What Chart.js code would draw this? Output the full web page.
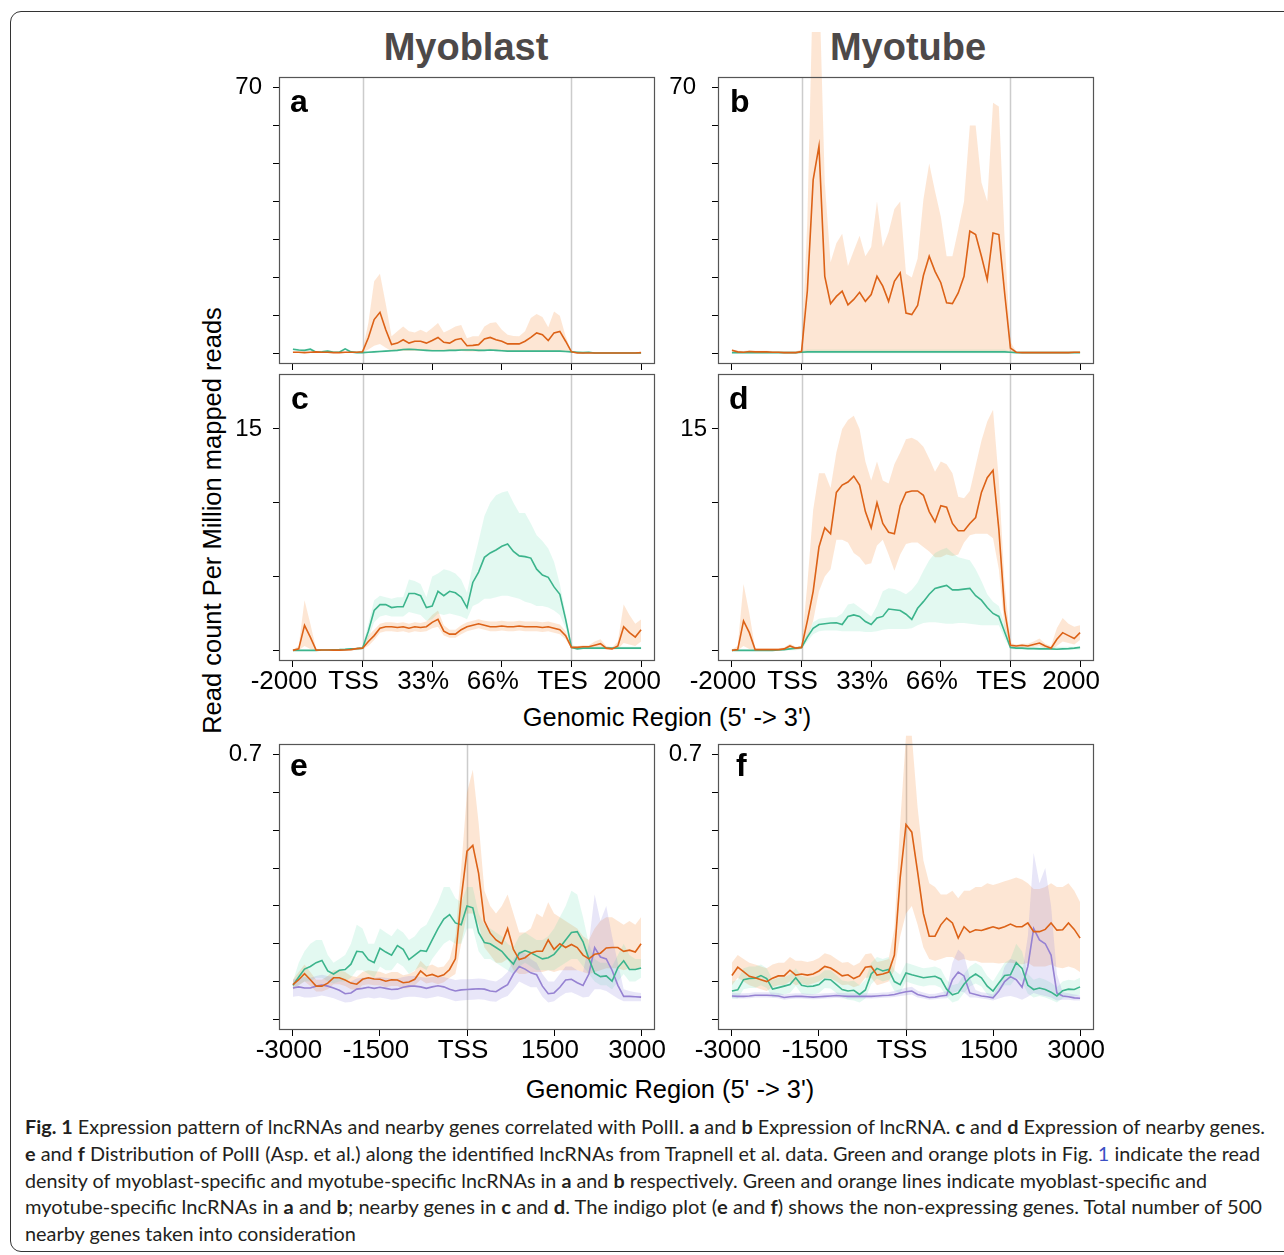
<!DOCTYPE html>
<html>
<head>
<meta charset="utf-8">
<title>Fig. 1</title>
<script src="https://cdn.jsdelivr.net/npm/chart.js@4.4.1/dist/chart.umd.min.js"></script>
<style>
  html, body { margin: 0; padding: 0; background: #fff; }
  body { position: relative; width: 1284px; height: 1255px; overflow: hidden; font-family: 'Liberation Sans', Arial, sans-serif; color: #000; }
  .frame { position: absolute; left: 10px; top: 11px; width: 1320px; height: 1241px; border: 1.5px solid #333; border-radius: 11px; box-sizing: border-box; }
  canvas { position: absolute; }
  .head { position: absolute; top: 28px; width: 400px; text-align: center; font-weight: bold; font-size: 38px; line-height: 38px; color: #4d4949; }
  .xtitle { position: absolute; width: 600px; text-align: center; font-size: 25.4px; line-height: 25px; }
  .ytitle { position: absolute; left: -88px; top: 508px; width: 600px; height: 25px; line-height: 25px; font-size: 25.5px; text-align: center; transform: rotate(-90deg); }
  .cap { position: absolute; left: 25px; white-space: nowrap; font-family: Lato, 'Noto Sans', sans-serif; font-size: 19px; line-height: 19px; color: #231f20; transform-origin: 0 0; }
  .cap .ref { color: #3b4fc4; }
</style>
</head>
<body>
<div class="frame"></div>
<div class="head" style="left:266px">Myoblast</div>
<div class="head" style="left:708px">Myotube</div>
<div class="ytitle">Read count Per Million mapped reads</div>
<div class="xtitle" style="left:367px;top:705px">Genomic Region (5' -&gt; 3')</div>
<div class="xtitle" style="left:370px;top:1077px">Genomic Region (5' -&gt; 3')</div>

<div class="cap" data-w="1240" style="top:1117px"><b>Fig. 1</b> Expression pattern of lncRNAs and nearby genes correlated with PolII. <b>a</b> and <b>b</b> Expression of lncRNA. <b>c</b> and <b>d</b> Expression of nearby genes.</div>
<div class="cap" data-w="1235" style="top:1144px"><b>e</b> and <b>f</b> Distribution of PolII (Asp. et al.) along the identified lncRNAs from Trapnell et al. data. Green and orange plots in Fig. <span class="ref">1</span> indicate the read</div>
<div class="cap" data-w="1182" style="top:1171px">density of myoblast-specific and myotube-specific lncRNAs in <b>a</b> and <b>b</b> respectively. Green and orange lines indicate myoblast-specific and</div>
<div class="cap" data-w="1237" style="top:1197px">myotube-specific lncRNAs in <b>a</b> and <b>b</b>; nearby genes in <b>c</b> and <b>d</b>. The indigo plot (<b>e</b> and <b>f</b>) shows the non-expressing genes. Total number of 500</div>
<div class="cap" style="top:1224px">nearby genes taken into consideration</div>

<script>
// bins: 61 profile points, gene body plots use tick units (0 = -2000 ... 5 = 2000)
const geneBins = Array.from({ length: 61 }, (_, i) => i / 12);
const tssBins = Array.from({ length: 61 }, (_, i) => -3000 + i * 100);

const geneTicks = [0, 1, 2, 3, 4, 5];
const geneTickLabels = ['-2000', 'TSS', '33%', '66%', 'TES', '2000'];
const tssTicks = [-3000, -1500, 0, 1500, 3000];
const tssTickLabels = ['-3000', '-1500', 'TSS', '1500', '3000'];
const geneMarks = [1, 4];
const tssMarks = [0];

const lncYTicks = [0, 10, 20, 30, 40, 50, 60, 70];
const nearYTicks = [0, 5, 10, 15];
const polYTicks = [0, 0.1, 0.2, 0.3, 0.4, 0.5, 0.6, 0.7];

// a: myoblast lncRNA
const aOrange = [0.3,0.3,0.2,0.3,0.4,0.3,0.3,0.2,0.2,0.3,0.3,0.3,
  0.4,4.1,8.9,10.8,6.2,2.3,2.7,3.6,2.7,3.2,3.2,2.7,3.4,4.2,2.9,2.7,3.6,3.9,2.0,2.1,2.3,3.8,4.2,3.6,3.2,2.5,2.5,2.5,3.2,4.2,5.4,4.9,3.4,5.4,5.8,3.2,0.4,
  0.1,0.1,0.1,0.1,0.1,0.1,0.1,0.1,0.1,0.1,0.1,0.2];
const aOrangeHi = [0.4,0.4,0.3,0.4,0.5,0.4,0.4,0.3,0.3,0.4,0.4,0.4,
  0.8,8,19,21,13,4.5,5.8,7.1,5.8,5.5,6.2,5.5,6.7,8.0,5.5,6.2,7.1,7.5,4.0,4.5,4.5,7.1,8.0,8.2,6.2,4.9,4.6,4.5,5.8,9.3,10.4,9.6,6.9,11,9.9,4.5,0.6,
  0.2,0.2,0.2,0.2,0.2,0.2,0.2,0.2,0.2,0.2,0.2,0.3];
const aOrangeLo = [0.1,0.1,0.1,0.1,0.1,0.1,0.1,0.1,0.1,0.1,0.1,0.1,
  0.2,1.0,2.0,2.5,1.5,0.6,0.6,0.6,0.6,0.6,0.6,0.6,0.6,0.6,0.6,0.6,0.6,0.6,0.5,0.5,0.5,0.6,0.6,0.6,0.6,0.5,0.5,0.5,0.6,0.6,0.6,0.6,0.6,0.6,0.6,0.5,0.2,
  0.05,0.05,0.05,0.05,0.05,0.05,0.05,0.05,0.05,0.05,0.05,0.05];
const aGreen = [1.1,0.9,0.8,1.1,0.3,0.4,0.6,0.3,0.3,1.2,0.4,0.2,
  0.2,0.3,0.4,0.5,0.6,0.7,0.8,1.0,1.1,1.0,0.9,0.8,0.7,0.7,0.7,0.8,0.8,0.9,0.9,0.9,0.8,0.8,0.9,0.8,0.7,0.6,0.6,0.6,0.6,0.6,0.6,0.6,0.6,0.6,0.6,0.5,0.4,
  0.3,0.2,0.3,0.1,0.1,0.1,0.1,0.1,0.1,0.1,0.1,0.1];
const aGreenHi = [1.4,1.2,1.1,1.4,0.6,0.7,0.9,0.6,0.6,1.5,0.7,0.5,
  0.5,0.6,0.7,0.8,0.9,1.0,1.1,1.3,1.4,1.3,1.2,1.1,1.0,1.0,1.0,1.1,1.1,1.2,1.2,1.2,1.1,1.1,1.2,1.1,1.0,0.9,0.9,0.9,0.9,0.9,0.9,0.9,0.9,0.9,0.9,0.8,0.7,
  0.5,0.4,0.5,0.3,0.3,0.3,0.3,0.3,0.3,0.3,0.3,0.3];
const aGreenLo = [0.8,0.6,0.5,0.8,0.1,0.1,0.3,0.1,0.1,0.9,0.1,0.0,
  0.0,0.1,0.2,0.3,0.4,0.5,0.6,0.7,0.8,0.7,0.6,0.5,0.5,0.5,0.5,0.6,0.6,0.6,0.6,0.6,0.6,0.6,0.6,0.6,0.5,0.4,0.4,0.4,0.4,0.4,0.4,0.4,0.4,0.4,0.4,0.3,0.2,
  0.1,0.0,0.1,0,0,0,0,0,0,0,0,0];

// b: myotube lncRNA
const bOrange = [0.8,0.4,0.3,0.5,0.4,0.4,0.4,0.3,0.3,0.2,0.2,0.2,
  0.5,16.5,45.7,54.6,20.3,13.1,15,16.4,12.8,14.2,16.1,13.7,15.5,20.3,17.7,13.7,19,21.2,10.6,10.2,12.6,20.5,25.6,21.6,18.6,13.3,13.1,15.9,20.3,32.2,31.3,25.6,19.4,31.7,31.3,15.9,1.4,
  0.3,0.2,0.2,0.2,0.2,0.2,0.2,0.2,0.2,0.2,0.3,0.3];
const bOrangeHi = [1.1,0.7,0.6,0.8,0.7,0.7,0.7,0.6,0.6,0.5,0.5,0.5,
  1.0,35,100,100,45,24,29,31.5,23,27,31,25.6,28,40,28,32,38,40,21,20,25,40.5,50,42.7,36,25.6,25.6,32.6,40,60,60,45,40,66,65,30,3,
  0.5,0.5,0.5,0.5,0.5,0.5,0.5,0.5,0.5,0.5,0.5,0.5];
const bOrangeLo = [0.5,0.2,0.1,0.2,0.2,0.2,0.2,0.1,0.1,0.05,0.05,0.05,
  0.2,
  0.3,0.3,0.3,0.3,0.3, 0.3,0.3,0.3,0.3,0.3, 0.3,0.3,0.3,0.3,0.3, 0.3,0.3,0.3,0.3,0.3,
  0.3,0.3,0.3,0.3,0.3, 0.3,0.3,0.3,0.3,0.3, 0.3,0.3,0.3,0.3,0.3,
  0.2,
  0.1,0.1,0.1,0.1,0.1,0.1,0.1,0.1,0.1,0.1,0.1,0.1];
const bGreen = [0.2,0.2,0.2,0.2,0.2,0.2,0.2,0.2,0.2,0.2,0.2,0.2,
  0.3,
  0.4,0.4,0.4,0.4,0.4, 0.4,0.4,0.4,0.4,0.4, 0.4,0.4,0.4,0.4,0.4, 0.4,0.4,0.4,0.4,0.4,
  0.4,0.4,0.4,0.4,0.4, 0.4,0.4,0.4,0.4,0.4, 0.4,0.4,0.4,0.4,0.4,
  0.3,
  0.2,0.2,0.2,0.2,0.2,0.2,0.2,0.2,0.2,0.2,0.2,0.2];
const bGreenHi = [0.4,0.4,0.4,0.4,0.4,0.4,0.4,0.4,0.4,0.4,0.4,0.4,
  0.6,
  1.0,1.0,1.0,1.0,1.0, 1.0,1.0,1.0,1.0,1.0, 1.0,1.0,1.0,1.0,1.0, 1.0,1.0,1.0,1.0,1.0,
  1.0,1.0,1.0,1.0,1.0, 1.0,1.0,1.0,1.0,1.0, 1.0,1.0,1.0,1.0,1.0,
  0.5,
  0.35,0.35,0.35,0.35,0.35,0.35,0.35,0.35,0.35,0.35,0.35,0.35];
const bGreenLo = [0.05,0.05,0.05,0.05,0.05,0.05,0.05,0.05,0.05,0.05,0.05,0.05,
  0.05,
  0.05,0.05,0.05,0.05,0.05, 0.05,0.05,0.05,0.05,0.05, 0.05,0.05,0.05,0.05,0.05, 0.05,0.05,0.05,0.05,0.05,
  0.05,0.05,0.05,0.05,0.05, 0.05,0.05,0.05,0.05,0.05, 0.05,0.05,0.05,0.05,0.05,
  0.05,
  0.05,0.05,0.05,0.05,0.05,0.05,0.05,0.05,0.05,0.05,0.05,0.05];

// c: myoblast nearby genes
const cOrange = [0,0.1,1.7,0.9,0.02,0.03,0.03,0.02,0.02,0.03,0.05,0.12,
  0.15,0.6,1.0,1.5,1.6,1.6,1.55,1.6,1.5,1.6,1.55,1.6,1.9,2.1,1.3,1.1,1.1,1.4,1.6,1.7,1.8,1.7,1.6,1.6,1.65,1.6,1.6,1.65,1.6,1.6,1.6,1.55,1.6,1.5,1.4,1.0,0.2,
  0.2,0.25,0.25,0.35,0.45,0.15,0.1,0.3,1.6,1.2,0.9,1.4];
const cOrangeHi = [0.05,0.3,3.4,1.8,0.1,0.1,0.1,0.1,0.1,0.1,0.12,0.2,
  0.25,1.0,1.4,1.8,1.9,1.9,1.85,1.9,1.8,1.9,1.85,1.95,2.4,2.7,1.7,1.4,1.4,1.7,1.9,2.0,2.1,2.0,1.95,1.95,2.0,1.95,1.95,2.0,1.95,1.95,1.95,1.9,1.95,1.85,1.75,1.3,0.3,
  0.3,0.35,0.35,0.6,0.75,0.3,0.2,0.6,3.1,2.4,1.8,2.1];
const cOrangeLo = [0,0,0.3,0.1,0,0,0,0,0,0,0,0.05,
  0.1,0.3,0.7,1.2,1.3,1.3,1.25,1.3,1.2,1.3,1.25,1.3,1.5,1.6,1.0,0.85,0.85,1.1,1.3,1.4,1.5,1.4,1.3,1.3,1.35,1.3,1.3,1.35,1.3,1.3,1.3,1.25,1.3,1.2,1.1,0.75,0.1,
  0.1,0.15,0.15,0.2,0.2,0.05,0.05,0.1,0.5,0.4,0.3,0.6];
const cGreen = [0,0,0,0,0,0.02,0.03,0.04,0.05,0.07,0.1,0.12,
  0.15,1.3,2.7,3.1,3.1,2.9,2.95,2.95,3.85,3.85,3.7,2.9,3.0,4.0,3.7,4.0,3.9,3.6,2.9,4.6,5.3,6.3,6.6,6.8,7.05,7.2,6.7,6.4,6.35,6.25,5.5,5.1,4.95,4.3,3.8,2.1,0.2,
  0.1,0.15,0.15,0.15,0.15,0.15,0.15,0.15,0.15,0.15,0.15,0.15];
const cGreenHi = [0.05,0.05,0.05,0.05,0.05,0.07,0.08,0.09,0.1,0.12,0.15,0.18,
  0.25,1.8,3.4,3.7,3.6,3.5,3.6,3.6,4.8,4.7,4.5,3.6,5.0,5.2,5.5,5.4,5.2,4.8,3.9,5.8,7.4,9.1,10.0,10.5,10.7,10.8,10.0,9.3,9.3,8.6,7.8,7.4,6.9,6.0,4.5,2.5,0.4,
  0.25,0.25,0.25,0.25,0.25,0.25,0.25,0.25,0.25,0.25,0.25,0.25];
const cGreenLo = [0,0,0,0,0,0,0,0,0,0,0,0,
  0.05,0.8,1.9,2.3,2.4,2.3,2.3,2.3,2.6,2.5,2.4,2.0,2.1,2.5,2.4,2.5,2.4,2.3,2.1,3.0,3.2,3.5,3.5,3.6,3.7,3.7,3.6,3.5,3.3,3.2,3.0,3.0,2.9,2.7,2.4,1.5,0.1,
  0.08,0.08,0.08,0.08,0.08,0.08,0.08,0.08,0.08,0.08,0.08,0.08];

// d: myotube nearby genes
const dOrange = [0,0.05,2.0,1.2,0.05,0.05,0.05,0.05,0.05,0.1,0.3,0.15,
  0.2,2.0,4.0,7.0,8.3,7.9,10.7,11.2,11.4,11.8,11.2,9.4,8.3,10.0,8.6,8.0,7.9,9.8,10.7,10.8,10.8,10.5,9.4,8.7,9.8,9.7,8.6,8.1,8.1,8.6,9.0,10.7,11.7,12.2,8.2,2.7,0.35,
  0.3,0.35,0.3,0.4,0.5,0.3,0.15,0.75,1.2,1.0,0.8,1.2];
const dOrangeHi = [0.05,0.3,4.5,2.5,0.15,0.15,0.15,0.15,0.15,0.2,0.45,0.25,
  0.3,4.5,9.5,12.0,12.0,11.0,13.4,15.0,15.6,15.9,15.0,12.8,11.5,12.8,11.5,11.3,12.6,13.4,14.3,14.4,14.2,13.8,13.0,12.1,12.8,12.6,12.0,10.4,10.3,10.8,12.5,14.2,15.5,16.3,11.5,4.5,0.5,
  0.4,0.45,0.45,0.6,0.8,0.45,0.3,1.5,2.2,1.8,1.6,1.7];
const dOrangeLo = [0,0,0.3,0.1,0,0,0,0,0,0,0.1,0.05,
  0.1,0.8,2.0,4.0,5.0,5.5,7.5,7.5,7.3,6.6,6.3,5.8,5.9,7.1,7.5,6.5,5.4,6.5,7.2,7.3,7.3,7.0,6.7,6.3,6.3,6.5,6.4,6.5,7.3,7.8,7.9,7.9,7.9,7.6,5.5,1.5,0.2,
  0.2,0.2,0.2,0.25,0.3,0.15,0.05,0.3,0.6,0.5,0.4,0.7];
const dGreen = [0,0,0,0,0,0,0,0,0.02,0.05,0.1,0.15,
  0.2,0.9,1.5,1.75,1.8,1.85,1.87,1.75,2.3,2.4,2.3,1.95,1.75,2.2,2.3,2.8,2.75,2.7,2.45,2.1,2.85,3.3,3.8,4.2,4.3,4.4,4.1,4.1,4.15,4.2,3.7,3.4,2.9,2.5,2.3,1.25,0.2,
  0.15,0.15,0.12,0.12,0.1,0.1,0.1,0.08,0.1,0.12,0.15,0.2];
const dGreenHi = [0.05,0.05,0.05,0.05,0.05,0.05,0.05,0.05,0.07,0.1,0.15,0.2,
  0.3,1.1,1.9,2.15,2.2,2.25,2.25,2.5,3.1,3.2,2.9,2.6,2.3,3.0,4.0,4.2,4.15,4.0,3.8,4.1,4.6,5.4,6.1,6.6,6.8,6.95,6.6,6.3,6.2,6.1,5.5,4.7,3.8,3.3,3.0,1.8,0.3,
  0.25,0.25,0.25,0.25,0.25,0.25,0.25,0.25,0.25,0.25,0.25,0.25];
const dGreenLo = [0,0,0,0,0,0,0,0,0,0,0,0,
  0.1,0.6,1.1,1.3,1.35,1.35,1.35,1.3,1.3,1.3,1.3,1.25,1.25,1.3,1.4,1.45,1.45,1.45,1.45,1.5,1.7,1.85,1.9,1.9,1.85,1.8,1.8,1.85,1.85,1.8,1.75,1.7,1.7,1.7,1.7,0.8,0.1,
  0.05,0.05,0.05,0.05,0.05,0.05,0.05,0.05,0.05,0.05,0.05,0.05];

// e: PolII around myoblast lncRNA TSS
const eOrange = [0.092,0.105,0.121,0.105,0.088,0.088,0.096,0.11,0.11,0.104,
  0.096,0.093,0.106,0.11,0.107,0.106,0.101,0.105,0.104,0.097,
  0.099,0.106,0.128,0.115,0.119,0.113,0.118,0.132,0.16,0.32,
  0.445,0.46,0.386,0.26,0.228,0.21,0.2,0.24,0.185,0.158,
  0.163,0.175,0.18,0.18,0.21,0.185,0.2,0.19,0.198,0.19,
  0.17,0.16,0.172,0.175,0.189,0.19,0.19,0.18,0.183,0.178,0.2];
const eOrangeHi = [0.105,0.125,0.145,0.125,0.105,0.105,0.115,0.13,0.13,0.125,
  0.115,0.112,0.125,0.13,0.127,0.126,0.12,0.125,0.125,0.117,
  0.12,0.128,0.155,0.14,0.145,0.137,0.14,0.16,0.22,0.4,
  0.6,0.66,0.52,0.34,0.3,0.28,0.3,0.33,0.28,0.23,
  0.23,0.24,0.28,0.27,0.31,0.28,0.27,0.26,0.25,0.24,
  0.22,0.21,0.24,0.26,0.27,0.27,0.26,0.25,0.26,0.25,0.27];
const eOrangeLo = [0.078,0.09,0.1,0.088,0.074,0.074,0.08,0.093,0.093,0.088,
  0.08,0.078,0.09,0.093,0.09,0.09,0.085,0.088,0.088,0.082,
  0.083,0.09,0.105,0.095,0.098,0.093,0.098,0.11,0.12,0.2,
  0.28,0.28,0.25,0.19,0.17,0.15,0.15,0.16,0.13,0.12,
  0.12,0.125,0.125,0.125,0.13,0.125,0.13,0.13,0.13,0.13,
  0.125,0.12,0.125,0.13,0.135,0.135,0.135,0.13,0.135,0.13,0.14];
const eGreen = [0.09,0.112,0.133,0.14,0.15,0.156,0.128,0.12,0.13,0.132,
  0.146,0.18,0.178,0.158,0.15,0.188,0.178,0.17,0.195,0.185,
  0.158,0.17,0.182,0.18,0.21,0.24,0.265,0.277,0.255,0.25,
  0.3,0.295,0.23,0.203,0.2,0.19,0.18,0.162,0.146,0.175,
  0.182,0.176,0.168,0.16,0.163,0.172,0.19,0.21,0.23,0.232,
  0.205,0.16,0.122,0.113,0.115,0.101,0.137,0.155,0.132,0.132,0.136];
const eGreenHi = [0.1,0.15,0.18,0.2,0.21,0.21,0.17,0.15,0.16,0.17,
  0.2,0.25,0.24,0.2,0.2,0.24,0.23,0.22,0.24,0.23,
  0.21,0.22,0.24,0.25,0.28,0.31,0.35,0.35,0.32,0.31,
  0.35,0.35,0.28,0.25,0.24,0.23,0.22,0.2,0.19,0.22,
  0.23,0.22,0.21,0.21,0.22,0.24,0.27,0.3,0.34,0.33,
  0.27,0.2,0.16,0.15,0.15,0.14,0.17,0.2,0.17,0.16,0.16];
const eGreenLo = [0.08,0.09,0.1,0.1,0.11,0.11,0.1,0.095,0.1,0.1,
  0.11,0.13,0.13,0.12,0.11,0.14,0.13,0.13,0.15,0.14,
  0.12,0.13,0.14,0.13,0.16,0.18,0.2,0.21,0.2,0.2,
  0.24,0.24,0.18,0.16,0.16,0.15,0.14,0.13,0.12,0.14,
  0.15,0.14,0.13,0.13,0.13,0.13,0.14,0.15,0.16,0.16,
  0.14,0.12,0.1,0.09,0.09,0.08,0.1,0.12,0.1,0.1,0.11];
const ePurple = [0.083,0.086,0.083,0.083,0.088,0.091,0.088,0.083,0.077,0.068,
  0.07,0.08,0.082,0.085,0.082,0.085,0.082,0.079,0.08,0.085,
  0.088,0.088,0.086,0.082,0.086,0.089,0.086,0.08,0.075,0.078,
  0.079,0.08,0.081,0.08,0.075,0.073,0.083,0.092,0.12,0.14,
  0.133,0.123,0.118,0.088,0.068,0.07,0.085,0.104,0.106,0.097,
  0.09,0.12,0.19,0.165,0.16,0.13,0.09,0.061,0.061,0.06,0.059];
const ePurpleHi = [0.105,0.11,0.112,0.11,0.115,0.118,0.115,0.112,0.108,0.1,
  0.1,0.108,0.11,0.112,0.11,0.112,0.11,0.108,0.108,0.112,
  0.115,0.115,0.112,0.11,0.112,0.115,0.112,0.108,0.104,0.106,
  0.106,0.107,0.108,0.107,0.103,0.1,0.11,0.125,0.16,0.18,
  0.175,0.16,0.15,0.12,0.1,0.1,0.12,0.14,0.14,0.13,
  0.125,0.2,0.33,0.26,0.3,0.22,0.15,0.08,0.075,0.072,0.07];
const ePurpleLo = [0.06,0.062,0.058,0.058,0.06,0.063,0.06,0.056,0.05,0.045,
  0.046,0.052,0.055,0.058,0.055,0.058,0.055,0.052,0.053,0.058,
  0.06,0.06,0.058,0.055,0.058,0.061,0.058,0.053,0.048,0.05,
  0.051,0.052,0.053,0.052,0.048,0.047,0.056,0.062,0.08,0.1,
  0.092,0.085,0.085,0.06,0.045,0.048,0.06,0.07,0.072,0.065,
  0.058,0.06,0.08,0.08,0.075,0.065,0.055,0.048,0.048,0.048,0.048];

// f: PolII around myotube lncRNA TSS
const fOrange = [0.116,0.138,0.126,0.114,0.11,0.105,0.1,0.109,0.115,0.115,
  0.13,0.117,0.12,0.117,0.12,0.128,0.14,0.136,0.126,0.115,
  0.118,0.108,0.115,0.138,0.14,0.117,0.12,0.125,0.17,0.375,
  0.515,0.495,0.39,0.28,0.22,0.22,0.25,0.268,0.255,0.215,
  0.245,0.23,0.237,0.235,0.24,0.245,0.24,0.245,0.252,0.245,
  0.245,0.255,0.232,0.232,0.238,0.255,0.236,0.237,0.255,0.238,0.215];
const fOrangeHi = [0.15,0.17,0.16,0.15,0.145,0.14,0.135,0.145,0.15,0.15,
  0.165,0.155,0.155,0.152,0.155,0.162,0.175,0.17,0.16,0.15,
  0.152,0.142,0.15,0.172,0.175,0.152,0.155,0.16,0.24,0.52,
  0.75,0.75,0.56,0.42,0.36,0.35,0.33,0.33,0.34,0.32,
  0.34,0.34,0.35,0.35,0.36,0.355,0.36,0.365,0.37,0.375,
  0.37,0.36,0.345,0.345,0.35,0.36,0.35,0.35,0.36,0.34,0.31];
const fOrangeLo = [0.09,0.11,0.1,0.09,0.085,0.08,0.075,0.085,0.09,0.09,
  0.1,0.09,0.095,0.09,0.095,0.1,0.11,0.108,0.1,0.09,
  0.092,0.085,0.09,0.11,0.11,0.09,0.095,0.1,0.13,0.22,
  0.28,0.3,0.25,0.19,0.16,0.155,0.16,0.165,0.165,0.155,
  0.16,0.155,0.155,0.15,0.15,0.15,0.148,0.15,0.15,0.148,
  0.145,0.15,0.14,0.14,0.14,0.145,0.138,0.135,0.14,0.135,0.125];
const fGreen = [0.075,0.078,0.105,0.108,0.109,0.116,0.108,0.08,0.084,0.088,
  0.092,0.11,0.09,0.087,0.088,0.092,0.106,0.105,0.092,0.079,
  0.075,0.077,0.066,0.078,0.12,0.135,0.128,0.132,0.1,0.092,
  0.123,0.118,0.114,0.11,0.112,0.114,0.107,0.08,0.065,0.07,
  0.093,0.11,0.12,0.11,0.088,0.075,0.096,0.116,0.118,0.15,
  0.135,0.09,0.079,0.083,0.079,0.072,0.062,0.076,0.08,0.079,0.086];
const fGreenHi = [0.1,0.105,0.135,0.14,0.14,0.145,0.135,0.105,0.11,0.112,
  0.118,0.135,0.115,0.11,0.112,0.117,0.13,0.13,0.117,0.103,
  0.1,0.102,0.09,0.105,0.15,0.165,0.16,0.165,0.13,0.118,
  0.15,0.145,0.14,0.135,0.137,0.14,0.133,0.105,0.09,0.095,
  0.12,0.14,0.15,0.14,0.115,0.1,0.125,0.15,0.16,0.2,
  0.18,0.12,0.105,0.11,0.105,0.097,0.085,0.1,0.105,0.103,0.11];
const fGreenLo = [0.055,0.055,0.08,0.083,0.083,0.09,0.083,0.058,0.062,0.066,
  0.07,0.088,0.068,0.065,0.066,0.07,0.083,0.082,0.07,0.058,
  0.052,0.05,0.045,0.055,0.093,0.108,0.1,0.105,0.075,0.07,
  0.1,0.095,0.09,0.087,0.09,0.09,0.084,0.06,0.045,0.05,
  0.07,0.087,0.095,0.087,0.066,0.055,0.074,0.09,0.09,0.11,
  0.1,0.068,0.058,0.062,0.058,0.052,0.045,0.056,0.06,0.06,0.066];
const fPurple = [0.062,0.061,0.061,0.062,0.064,0.064,0.064,0.063,0.062,0.058,
  0.06,0.061,0.061,0.06,0.059,0.06,0.061,0.062,0.063,0.062,
  0.061,0.061,0.061,0.061,0.061,0.062,0.063,0.064,0.066,0.07,
  0.073,0.075,0.066,0.062,0.058,0.059,0.062,0.064,0.105,0.125,
  0.115,0.07,0.066,0.062,0.06,0.057,0.075,0.1,0.113,0.105,
  0.085,0.14,0.24,0.21,0.2,0.17,0.07,0.062,0.06,0.057,0.056];
const fPurpleHi = [0.07,0.069,0.069,0.07,0.072,0.072,0.072,0.071,0.07,0.066,
  0.068,0.069,0.069,0.068,0.067,0.068,0.069,0.07,0.071,0.07,
  0.069,0.069,0.069,0.069,0.069,0.07,0.071,0.072,0.075,0.08,
  0.084,0.086,0.076,0.071,0.067,0.068,0.071,0.075,0.15,0.185,
  0.17,0.11,0.078,0.072,0.07,0.066,0.09,0.14,0.16,0.155,
  0.12,0.22,0.44,0.36,0.4,0.3,0.12,0.072,0.069,0.066,0.064];
const fPurpleLo = [0.056,0.055,0.055,0.056,0.058,0.058,0.058,0.057,0.056,0.052,
  0.054,0.055,0.055,0.054,0.053,0.054,0.055,0.056,0.057,0.056,
  0.055,0.055,0.055,0.055,0.055,0.056,0.057,0.058,0.059,0.062,
  0.064,0.066,0.058,0.055,0.052,0.053,0.055,0.056,0.07,0.075,
  0.072,0.058,0.058,0.055,0.053,0.05,0.055,0.06,0.062,0.058,
  0.052,0.06,0.07,0.065,0.062,0.058,0.05,0.052,0.052,0.05,0.05];

const ORANGE = { line: '#dc6217', fill: 'rgba(245,140,60,0.22)', z: 0.1 };
const GREEN = { line: '#3cb48c', fill: 'rgba(80,220,170,0.16)', z: 0.2 };
const PURPLE = { line: '#9682d2', fill: 'rgba(140,130,220,0.2)', z: 0.3 };

// plot box geometry on the page and per-panel text nudges
const panelLayout = {
  a: { left: 279, top: 77, width: 376, height: 287, yMin: -2.8, yMax: 72.8, boxMax: 72.8, letterDx: 11, letterDy: 34.5, yPad: 11 },
  b: { left: 718, top: 32, width: 376, height: 332, yMin: -2.8, yMax: 84.65, boxMax: 72.8, letterDx: 12, letterDy: 34.5, yPad: 16 },
  c: { left: 279, top: 374, width: 376, height: 287, yMin: -0.72, yMax: 18.72, boxMax: 18.72, letterDx: 12, letterDy: 34.5, yPad: 11 },
  d: { left: 718, top: 374, width: 376, height: 287, yMin: -0.72, yMax: 18.72, boxMax: 18.72, letterDx: 11, letterDy: 34.5, yPad: 5 },
  e: { left: 279, top: 744, width: 376, height: 286, yMin: -0.028, yMax: 0.728, boxMax: 0.728, letterDx: 11, letterDy: 31, yPad: 11 },
  f: { left: 718, top: 735, width: 376, height: 295, yMin: -0.028, yMax: 0.7518, boxMax: 0.728, letterDx: 18, letterDy: 31, yPad: 10 }
};

const rFrame = {
  id: 'rFrame',
  beforeDatasetsDraw(chart, args, o) {
    const { ctx, chartArea: ca, scales: { x, y } } = chart;
    const top = y.getPixelForValue(o.boxMax);
    ctx.save();
    ctx.strokeStyle = '#cccccc';
    ctx.lineWidth = 1.5;
    o.marks.forEach(m => {
      const px = Math.round(x.getPixelForValue(m)) + 0.5;
      ctx.beginPath();
      ctx.moveTo(px, top);
      ctx.lineTo(px, ca.bottom);
      ctx.stroke();
    });
    ctx.restore();
  },
  afterDatasetsDraw(chart, args, o) {
    const { ctx, chartArea: ca, scales: { y } } = chart;
    const top = Math.round(y.getPixelForValue(o.boxMax)) + 0.5;
    ctx.save();
    ctx.strokeStyle = '#555';
    ctx.lineWidth = 1.2;
    ctx.strokeRect(Math.round(ca.left) + 0.5, top, Math.round(ca.width) - 1, Math.round(ca.bottom) - top - 0.5);
    ctx.fillStyle = '#000';
    ctx.font = 'bold 32px "Liberation Sans", Arial, sans-serif';
    ctx.textBaseline = 'alphabetic';
    ctx.fillText(o.letter, ca.left + o.dx, top + o.dy);
    ctx.restore();
  }
};

function buildPanel(key, series, bins, xTicks, xLabels, xRange, marks, yTicks, showX, labelOffset) {
  const L = panelLayout[key];
  const padTop = 4, padRight = 40, yAxisW = 70, xAxisH = 50;
  const canvas = document.createElement('canvas');
  canvas.width = yAxisW + L.width + padRight;
  canvas.height = padTop + L.height + xAxisH;
  canvas.style.left = (L.left - yAxisW) + 'px';
  canvas.style.top = (L.top - padTop) + 'px';
  document.body.appendChild(canvas);

  const datasets = [];
  series.forEach(s => {
    datasets.push({ data: s.hi, fill: '+1', backgroundColor: s.style.fill, borderColor: 'transparent', borderWidth: 0, pointRadius: 0, order: 2 });
    datasets.push({ data: s.lo, fill: false, borderColor: 'transparent', borderWidth: 0, pointRadius: 0, order: 2 });
  });
  series.forEach(s => {
    datasets.push({ data: s.mean, fill: false, borderColor: s.style.line, borderWidth: 1.6, pointRadius: 0, order: s.style.z });
  });

  const yFont = { family: "'Liberation Sans', Arial, sans-serif", size: 24 };
  const xFont = { family: "'Liberation Sans', Arial, sans-serif", size: 26 };
  const topLabel = yTicks[yTicks.length - 1];

  new Chart(canvas, {
    type: 'line',
    data: { labels: bins, datasets },
    plugins: [rFrame],
    options: {
      responsive: false,
      animation: false,
      devicePixelRatio: 1,
      events: [],
      layout: { padding: { top: padTop, right: padRight, left: 0, bottom: 0 } },
      plugins: {
        legend: { display: false },
        tooltip: { enabled: false },
        rFrame: { boxMax: L.boxMax, marks, letter: key, dx: L.letterDx, dy: L.letterDy }
      },
      scales: {
        x: {
          type: 'linear',
          min: xRange[0],
          max: xRange[1],
          afterBuildTicks: s => { s.ticks = xTicks.map(v => ({ value: v })); },
          afterFit: s => { s.height = xAxisH; s.paddingLeft = 0; s.paddingRight = 0; },
          border: { display: false },
          grid: { display: true, drawOnChartArea: false, drawTicks: true, tickLength: 6, color: '#000', lineWidth: 1 },
          ticks: {
            display: showX, autoSkip: false, maxRotation: 0, minRotation: 0, padding: -1,
            labelOffset: labelOffset, color: '#000', font: xFont,
            callback: (v, i) => xLabels[i]
          }
        },
        y: {
          min: L.yMin,
          max: L.yMax,
          afterBuildTicks: s => { s.ticks = yTicks.map(v => ({ value: v })); },
          afterFit: s => { s.width = yAxisW; s.paddingTop = 0; s.paddingBottom = 0; },
          border: { display: false },
          grid: { display: true, drawOnChartArea: false, drawTicks: true, tickLength: 6, color: '#000', lineWidth: 1 },
          ticks: {
            autoSkip: false, padding: L.yPad, color: '#000', font: yFont,
            callback: v => (v === topLabel ? String(v) : '')
          }
        }
      }
    }
  });
}

const geneRange = [-0.2, 5.2];
const tssRange = [-3240, 3240];

buildPanel('a', [
  { lo: aOrangeLo, mean: aOrange, hi: aOrangeHi, style: ORANGE },
  { lo: aGreenLo, mean: aGreen, hi: aGreenHi, style: GREEN }
], geneBins, geneTicks, geneTickLabels, geneRange, geneMarks, lncYTicks, false, 0);

buildPanel('b', [
  { lo: bOrangeLo, mean: bOrange, hi: bOrangeHi, style: ORANGE },
  { lo: bGreenLo, mean: bGreen, hi: bGreenHi, style: GREEN }
], geneBins, geneTicks, geneTickLabels, geneRange, geneMarks, lncYTicks, false, 0);

buildPanel('c', [
  { lo: cGreenLo, mean: cGreen, hi: cGreenHi, style: GREEN },
  { lo: cOrangeLo, mean: cOrange, hi: cOrangeHi, style: ORANGE }
], geneBins, geneTicks, geneTickLabels, geneRange, geneMarks, nearYTicks, true, -9);

buildPanel('d', [
  { lo: dGreenLo, mean: dGreen, hi: dGreenHi, style: GREEN },
  { lo: dOrangeLo, mean: dOrange, hi: dOrangeHi, style: ORANGE }
], geneBins, geneTicks, geneTickLabels, geneRange, geneMarks, nearYTicks, true, -9);

buildPanel('e', [
  { lo: ePurpleLo, mean: ePurple, hi: ePurpleHi, style: PURPLE },
  { lo: eGreenLo, mean: eGreen, hi: eGreenHi, style: GREEN },
  { lo: eOrangeLo, mean: eOrange, hi: eOrangeHi, style: ORANGE }
], tssBins, tssTicks, tssTickLabels, tssRange, tssMarks, polYTicks, true, -4);

buildPanel('f', [
  { lo: fPurpleLo, mean: fPurple, hi: fPurpleHi, style: PURPLE },
  { lo: fGreenLo, mean: fGreen, hi: fGreenHi, style: GREEN },
  { lo: fOrangeLo, mean: fOrange, hi: fOrangeHi, style: ORANGE }
], tssBins, tssTicks, tssTickLabels, tssRange, tssMarks, polYTicks, true, -4);

// squeeze caption lines to the measured line lengths of the figure legend
const caps = Array.from(document.querySelectorAll('.cap'));
const fitted = [];
caps.forEach(el => {
  const w = +el.dataset.w;
  if (!w) return;
  const s = w / el.getBoundingClientRect().width;
  fitted.push(s);
  el.style.transform = 'scaleX(' + s + ')';
});
const avg = fitted.reduce((a, b) => a + b, 0) / fitted.length;
caps.forEach(el => { if (!el.dataset.w) el.style.transform = 'scaleX(' + avg + ')'; });
</script>
</body>
</html>
